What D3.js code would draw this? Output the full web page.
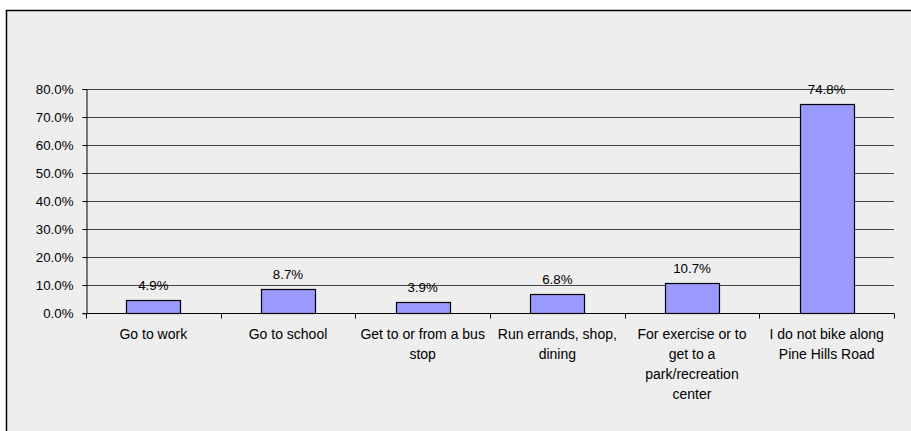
<!DOCTYPE html>
<html><head><meta charset="utf-8">
<script src="https://cdn.jsdelivr.net/npm/d3@7"></script>
<style>html,body{margin:0;padding:0;background:#fff;}svg{display:block;}</style>
</head><body>
<svg id="chart" width="911" height="431"></svg>
<script>
const categories = [
  "Go to work",
  "Go to school",
  "Get to or from a bus\nstop",
  "Run errands, shop,\ndining",
  "For exercise or to\nget to a\npark/recreation\ncenter",
  "I do not bike along\nPine Hills Road"
];
const values = [4.9, 8.7, 3.9, 6.8, 10.7, 74.8];
const yTicks = [0, 10, 20, 30, 40, 50, 60, 70, 80];

(function () {
const svg = d3.select("#chart");
const font = "'Liberation Sans', Arial, sans-serif";

svg.append("rect").attr("x", 6.5).attr("y", 10.5).attr("width", 930).attr("height", 450)
  .attr("fill", "#eeeeee").attr("stroke", "#000").attr("stroke-width", 1.5);

const pLeft = 86, pRight = 894, pTop = 89, pBottom = 313.3;
const x = d3.scaleBand().domain(categories).range([pLeft, pRight]).padding(0);
const y = d3.scaleLinear().domain([0, 80]).range([pBottom, pTop]);

// gridlines
svg.append("g").selectAll("line").data(yTicks.filter(d => d > 0)).join("line")
  .attr("x1", pLeft).attr("x2", pRight)
  .attr("y1", d => Math.round(y(d)) + 0.5).attr("y2", d => Math.round(y(d)) + 0.5)
  .attr("stroke", "#444").attr("stroke-width", 1);

// y axis
const yAxis = svg.append("g").attr("transform", `translate(${pLeft + 0.5},0)`)
  .call(d3.axisLeft(y).tickValues(yTicks).tickSize(4).tickPadding(9).tickFormat(d => d.toFixed(1) + "%"));
yAxis.select(".domain").attr("stroke", "#000");
yAxis.selectAll(".tick line").attr("stroke", "#000");
yAxis.selectAll(".tick").attr("transform", d => `translate(0,${Math.round(y(d)) + 0.5})`);
yAxis.selectAll("text").attr("font-family", font).attr("font-size", 13.3).attr("fill", "#000");

// bars
const bw = x.bandwidth() * 0.4;
svg.append("g").selectAll("rect").data(values).join("rect")
  .attr("x", (d, i) => Math.round(x(categories[i]) + x.bandwidth() / 2 - bw / 2) + 0.5)
  .attr("width", Math.round(bw))
  .attr("y", d => Math.round(y(d)) + 0.5)
  .attr("height", d => Math.round(y(0)) - Math.round(y(d)))
  .attr("fill", "#9999ff").attr("stroke", "#000").attr("stroke-width", 1.2);

// value labels
svg.append("g").selectAll("text").data(values).join("text")
  .attr("x", (d, i) => x(categories[i]) + x.bandwidth() / 2)
  .attr("y", d => y(d) - 10)
  .attr("text-anchor", "middle").attr("font-family", font).attr("font-size", 13.3)
  .text(d => d.toFixed(1) + "%");

// x axis
const xb = Math.round(pBottom) + 0.5;
svg.append("line").attr("x1", pLeft).attr("x2", pRight).attr("y1", xb).attr("y2", xb).attr("stroke", "#000");
const bounds = categories.map(c => x(c)).concat([pRight]);
svg.append("g").selectAll("line").data(bounds).join("line")
  .attr("x1", d => Math.round(d) + 0.5).attr("x2", d => Math.round(d) + 0.5)
  .attr("y1", xb).attr("y2", xb + 5).attr("stroke", "#000");

const labels = svg.append("g").selectAll("text").data(categories).join("text")
  .attr("x", d => x(d) + x.bandwidth() / 2)
  .attr("y", xb + 25)
  .attr("text-anchor", "middle").attr("font-family", font).attr("font-size", 14);
labels.each(function(d) {
  const t = d3.select(this);
  const cx = x(d) + x.bandwidth() / 2;
  d.split("\n").forEach((line, i) => {
    t.append("tspan").attr("x", cx).attr("dy", i === 0 ? 0 : 20).text(line);
  });
});
})();
</script>
</body></html>
